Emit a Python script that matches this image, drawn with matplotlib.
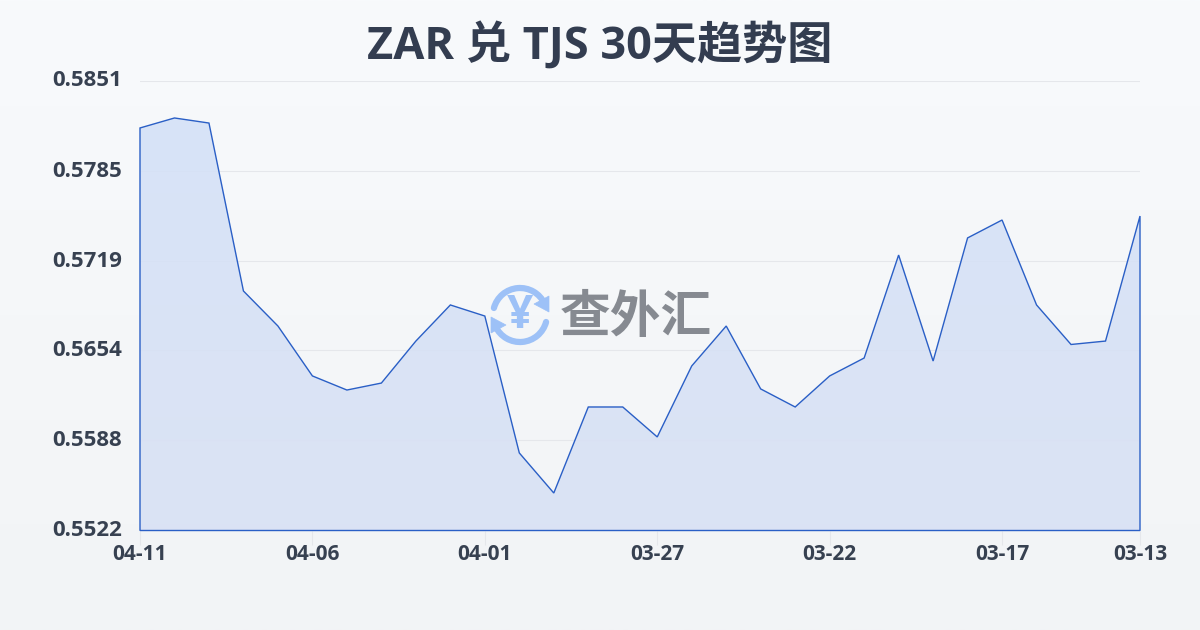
import matplotlib
matplotlib.use("Agg")
import matplotlib.pyplot as plt
import matplotlib.transforms as mtrans
import numpy as np
from matplotlib.patches import Arc, Polygon

plt.rcParams['font.family'] = ['Open Sans', 'Noto Sans CJK SC', 'DejaVu Sans']

# values, newest first
dias = list(range(30))
valores = [0.58163, 0.58236, 0.58199, 0.56971, 0.56715, 0.56350, 0.56247, 0.56298,
           0.56605, 0.56869, 0.56788, 0.55787, 0.55494, 0.56123, 0.56123, 0.55904,
           0.56423, 0.56715, 0.56255, 0.56123, 0.56350, 0.56481, 0.57234, 0.56459,
           0.57359, 0.57490, 0.56869, 0.56580, 0.56605, 0.57519]
y_ticks = [0.5522, 0.5588, 0.5654, 0.5719, 0.5785, 0.5851]
x_ticks = [0, 5, 10, 15, 20, 25, 29]
x_labels = ["04-11", "04-06", "04-01", "03-27", "03-22", "03-17", "03-13"]
titulo = "ZAR 兑 TJS 30天趋势图"

fig = plt.figure(figsize=(12, 6.3), dpi=100)

# fondo
bg = fig.add_axes([0, 0, 1, 1], zorder=0)
bg.imshow(np.linspace(0, 1, 256).reshape(-1, 1), aspect="auto", extent=[0, 1, 0, 1],
          cmap=matplotlib.colors.LinearSegmentedColormap.from_list("bg", ["#f8fafc", "#f2f4f6"]))
bg.axis("off")

ax = fig.add_axes([140 / 1200, 1 - 530.5 / 630, 1000 / 1200, 450 / 630], zorder=1)
ax.patch.set_alpha(0)
ax.set_xlim(0, 29)
ax.set_ylim(0.5522, 0.5851)

for s in ax.spines.values():
    s.set_visible(False)

ax.set_yticks(y_ticks)
ax.set_yticklabels([f"{v:.4f}" for v in y_ticks])
ax.set_xticks(x_ticks)
ax.set_xticklabels(x_labels)
ax.tick_params(axis="y", length=0, pad=13, labelsize=16, labelcolor="#374151")
ax.tick_params(axis="x", length=10, width=0.8, color="#e5e7eb", pad=0, labelsize=15, labelcolor="#374151")
offset = mtrans.ScaledTranslation(0, 2 / 100, fig.dpi_scale_trans)
for t in ax.get_yticklabels():
    t.set_fontweight("bold")
    t.set_transform(t.get_transform() + offset)
for t in ax.get_xticklabels():
    t.set_fontweight("bold")
ax.grid(axis="y", color="#e5e7eb", lw=0.8)
ax.set_axisbelow(True)

# area con degradado
x = np.array(dias)
y = np.array(valores)
verts = [(0, 0.5522)] + list(zip(x, y)) + [(29, 0.5522)]
grad = ax.imshow(np.linspace(0, 1, 256).reshape(-1, 1), aspect="auto",
                 extent=[0, 29, 0.5522, 0.5851], zorder=2,
                 cmap=matplotlib.colors.LinearSegmentedColormap.from_list("a", ["#d4e2f8", "#d9e1f4"]))
grad.set_alpha(0.9)
clip = Polygon(verts, closed=True, transform=ax.transData, fc="none", ec="none")
ax.add_patch(clip)
grad.set_clip_path(clip)
ax.add_patch(Polygon(verts, closed=True, fc="none", ec="#2a5fc6", lw=1.0, zorder=3, clip_on=False))
ax.set_xlim(0, 29)
ax.set_ylim(0.5522, 0.5851)

# titulo
fig.text(0.5, 1 - 46.5 / 630, titulo, ha="center", va="center", fontsize=32.5,
         fontweight="bold", color="#333d50", zorder=5)

# marca de agua
wm = fig.add_axes([0, 0, 1, 1], zorder=4)
wm.set_xlim(0, 1200)
wm.set_ylim(630, 0)
wm.axis("off")
azul = "#9dc1f7"
wm.add_patch(Arc((520, 315), 54, 54, theta1=195, theta2=335, ec=azul, lw=4.5, capstyle="round"))
wm.add_patch(Arc((520, 315), 54, 54, theta1=15, theta2=155, ec=azul, lw=4.5, capstyle="round"))
wm.add_patch(Polygon([(549, 296), (549, 312), (534, 304)], closed=True, fc=azul, ec=azul, lw=0.5))
wm.add_patch(Polygon([(491, 317), (491, 333), (506, 325)], closed=True, fc=azul, ec=azul, lw=0.5))
wm.text(520, 315, "¥", ha="center", va="center", fontsize=33, fontweight="bold", color=azul)
wm.text(636, 319, "查外汇", ha="center", va="center", fontsize=36.5, fontweight="bold", color="#868a91")

fig.savefig("out.png", dpi=100)
